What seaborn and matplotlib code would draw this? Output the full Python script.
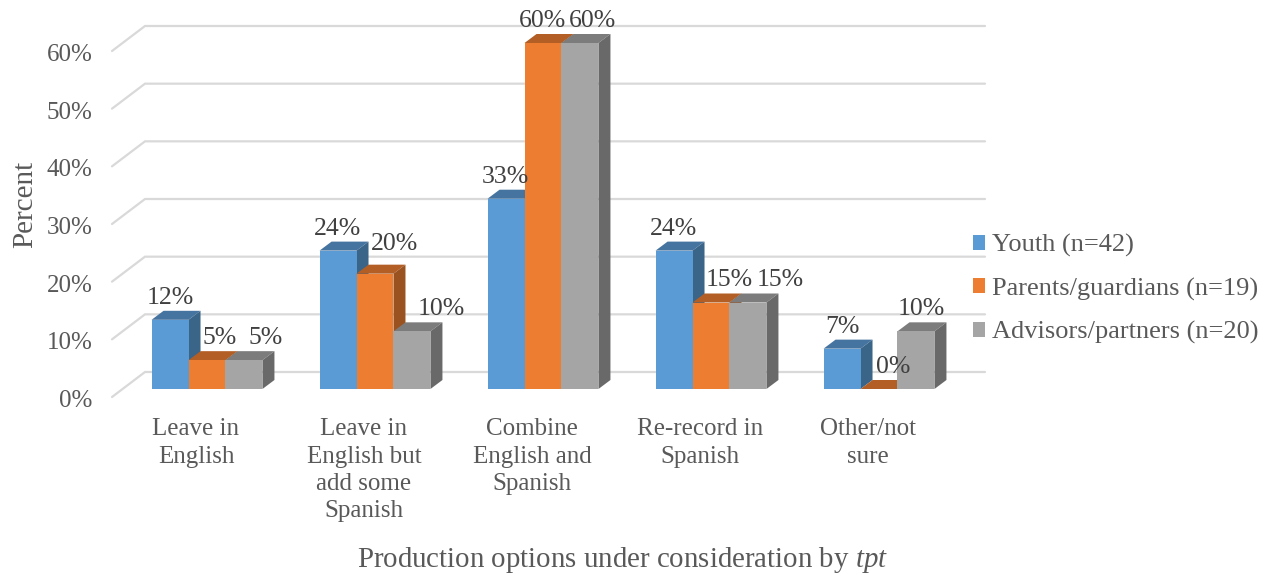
import matplotlib
matplotlib.use("Agg")
import matplotlib.pyplot as plt
import pandas as pd
import seaborn as sns
from matplotlib.patches import Polygon

options = ["Leave in\nEnglish", "Leave in\nEnglish but\nadd some\nSpanish", "Combine\nEnglish and\nSpanish",
           "Re-record in\nSpanish", "Other/not\nsure"]
groups = ["Youth (n=42)", "Parents/guardians (n=19)", "Advisors/partners (n=20)"]
youth = [12, 24, 33, 24, 7]
parents = [5, 20, 60, 15, 0]
advisors = [5, 10, 60, 15, 10]
y_ticks = [0, 10, 20, 30, 40, 50, 60]

front_colors = ["#5B9BD5", "#ED7D31", "#A5A5A5"]
top_colors = ["#4674A0", "#B25E25", "#7C7C7C"]
side_colors = ["#3A6488", "#9A5220", "#696969"]

# hand nudges for the data labels, in pixels (the original placed them unevenly)
label_dx = [[0, -1, -1, -1, 0], [13, 19, -1, 18, 14], [22, 29, 13, 32, 5]]
label_dy = [[0, 0, 0, 0, 0], [0, 8, 0, 0, 0], [0, 0, 0, 0, 0]]

sns.set_theme(style="white")
plt.rcParams["font.family"] = ["Liberation Serif", "DejaVu Serif"]
plt.rcParams["mathtext.fontset"] = "custom"
plt.rcParams["mathtext.it"] = "Liberation Serif:italic"
plt.rcParams["mathtext.rm"] = "Liberation Serif"

W, H = 1270, 575
TEXT = "#595959"
LABEL = "#404040"
GRID = "#D9D9D9"

df = pd.DataFrame({
    "option": options * 3,
    "group": [g for g in groups for _ in options],
    "value": youth + parents + advisors,
})

fig = plt.figure(figsize=(W / 100, H / 100), dpi=100, facecolor="white")
# axes box: floor runs 112..952 px, bottom edge 399 px (0% of the bars at 389), 60% at 43 px
ax = fig.add_axes([112 / W, 1 - 399 / H, 840 / W, 356 / H])
sns.barplot(data=df, x="option", y="value", hue="group", hue_order=groups, palette=front_colors,
            width=0.66, gap=0, saturation=1, linewidth=0, legend=False, ax=ax)

px_x = 1 / 168
px_y = 60 / 346
xlim = (-95 * px_x, 745 * px_x)
ylim = (-10 * px_y, 60)
ax.set_xlim(xlim)
ax.set_ylim(ylim)
for s in ax.spines.values():
    s.set_visible(False)

# oblique gridlines: short diagonal at the left, then along the back wall
x0 = xlim[0]
for v in y_ticks:
    ax.plot([x0, x0 + 33 * px_x, x0 + 873 * px_x], [v - 8 * px_y, v + 17 * px_y, v + 17 * px_y],
            color=GRID, lw=1.6, clip_on=False, zorder=1, solid_joinstyle="miter")

# 3D faces and labels for each bar
depth_x = 12 * px_x
depth_y = 9 * px_y
for i, bars in enumerate(ax.containers):
    for j, p in enumerate(bars.patches):
        left = p.get_x()
        right = left + p.get_width()
        h = p.get_height()
        p.set_zorder(3.5 + i)
        p.set_clip_on(False)
        top = Polygon([(left, h), (right, h), (right + depth_x, h + depth_y), (left + depth_x, h + depth_y)],
                      closed=True, facecolor=top_colors[i], edgecolor="none", clip_on=False, zorder=3 + i)
        side = Polygon([(right, 0), (right + depth_x, depth_y), (right + depth_x, h + depth_y), (right, h)],
                       closed=True, facecolor=side_colors[i], edgecolor="none", clip_on=False, zorder=3 + i)
        ax.add_patch(top)
        ax.add_patch(side)
        ax.text((left + right) / 2 + label_dx[i][j] * px_x, h + (22 + label_dy[i][j]) * px_y, f"{h:.0f}%",
                ha="center", va="center", fontsize=18.5, color=LABEL, clip_on=False, zorder=10)

ax.set_xticks([i - 11 * px_x for i in range(len(options))])
ax.set_xticklabels(options, fontsize=18, color=TEXT, linespacing=1.32)
ax.set_yticks([v - 9.5 * px_y for v in y_ticks])
ax.set_yticklabels([f"{v}%" for v in y_ticks], fontsize=18, color=TEXT)
ax.tick_params(axis="x", length=0, pad=13.8)
ax.tick_params(axis="y", length=0, pad=14.2)
ax.set_xlim(xlim)
ax.set_ylim(ylim)

ax.set_xlabel("Production options under consideration by $\\mathit{tpt}$", fontsize=20.8, color=TEXT)
ax.xaxis.set_label_coords((623 - 112) / 840, (399 - 560) / 356)
ax.xaxis.label.set_va("center")
ax.set_ylabel("Percent", fontsize=21, color=TEXT)
ax.yaxis.set_label_coords((25 - 112) / 840, (399 - 204) / 356)
ax.yaxis.label.set_va("center")

handles = [bars.patches[0] for bars in ax.containers]
ax.legend(handles, groups, loc="center left", bbox_to_anchor=(973 / W, 1 - 289 / H), bbox_transform=fig.transFigure,
          frameon=False, fontsize=19, labelcolor=TEXT, borderpad=0, borderaxespad=0, labelspacing=0.77,
          handlelength=0.46, handleheight=0.5, handletextpad=0.27)

fig.savefig("out.png", dpi=100, facecolor="white")
